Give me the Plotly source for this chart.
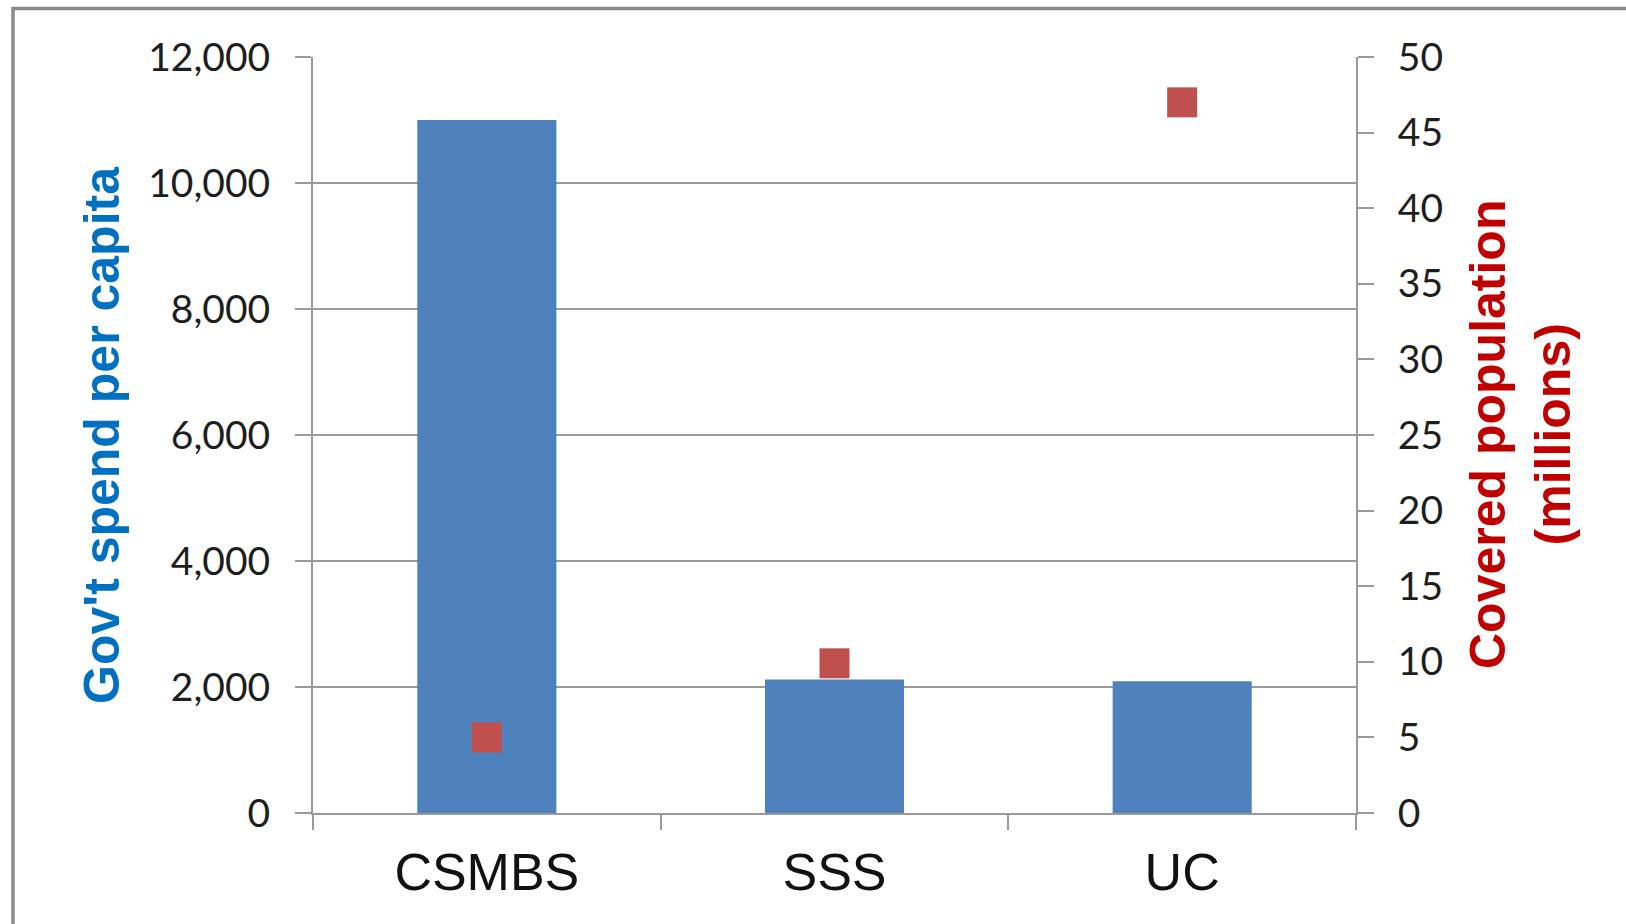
import plotly.graph_objects as go

# Health insurance schemes: government spend per capita vs covered population
schemes = ["CSMBS", "SSS", "UC"]
spend_per_capita = [11000, 2120, 2090]
covered_population_millions = [5.0, 9.9, 47.0]

spend_ticks = [0, 2000, 4000, 6000, 8000, 10000, 12000]
population_ticks = [0, 5, 10, 15, 20, 25, 30, 35, 40, 45, 50]

W, H = 1626, 924
L, R, T, B = 313, 270, 57, 111
plot_w = W - L - R
plot_h = H - T - B

AXIS_GREY = "#9a9a9a"
TICK_FONT = dict(family="Lato, Carlito, Calibri, sans-serif", size=39, color="#1e1e1e")


def px_to_paper_x(px):
    return (px - L) / plot_w


def px_to_paper_y(py):
    return (H - B - py) / plot_h


fig = go.Figure()

fig.add_trace(go.Bar(
    x=schemes,
    y=spend_per_capita,
    marker=dict(color="#4F81BD", line=dict(width=0)),
    yaxis="y",
    hoverinfo="skip",
))

fig.add_trace(go.Scatter(
    x=schemes,
    y=covered_population_millions,
    mode="markers",
    marker=dict(symbol="square", size=30, color="#C0504D", line=dict(width=0)),
    yaxis="y2",
    hoverinfo="skip",
))

fig.update_layout(
    width=W,
    height=H,
    margin=dict(l=L, r=R, t=T, b=B, pad=0),
    paper_bgcolor="white",
    plot_bgcolor="white",
    showlegend=False,
    bargap=0.6,
    xaxis=dict(
        type="category",
        categoryorder="array",
        categoryarray=schemes,
        showline=True,
        linecolor=AXIS_GREY,
        linewidth=2,
        ticks="outside",
        tickson="boundaries",
        ticklen=15,
        tickwidth=2,
        tickcolor=AXIS_GREY,
        showgrid=False,
        tickfont=dict(family="Liberation Sans, Arial, sans-serif", size=52, color="#111111"),
        ticklabelstandoff=13,
    ),
    yaxis=dict(
        range=[0, 12000],
        tickvals=spend_ticks,
        tickformat=",",
        showgrid=True,
        gridcolor=AXIS_GREY,
        gridwidth=2,
        zeroline=False,
        showline=True,
        linecolor=AXIS_GREY,
        linewidth=2,
        ticks="outside",
        ticklen=16,
        tickwidth=2,
        tickcolor=AXIS_GREY,
        tickfont=TICK_FONT,
        ticklabelstandoff=17,
    ),
    yaxis2=dict(
        range=[0, 50],
        tickvals=population_ticks,
        overlaying="y",
        side="right",
        showgrid=False,
        zeroline=False,
        showline=True,
        linecolor=AXIS_GREY,
        linewidth=2,
        ticks="outside",
        ticklen=16,
        tickwidth=2,
        tickcolor=AXIS_GREY,
        tickfont=TICK_FONT,
        ticklabelstandoff=16,
    ),
)

# Axis titles
fig.add_annotation(
    text="Gov't spend per capita",
    xref="paper", yref="paper",
    x=px_to_paper_x(102), y=0.5,
    xanchor="center", yanchor="middle",
    textangle=-90,
    showarrow=False,
    font=dict(family="Liberation Sans, Arial, sans-serif", size=50, color="#0070C0", weight="bold"),
)
fig.add_annotation(
    text="Covered population<br>(millions)",
    xref="paper", yref="paper",
    x=px_to_paper_x(1520), y=0.5,
    xanchor="center", yanchor="middle",
    textangle=-90,
    showarrow=False,
    font=dict(family="Liberation Sans, Arial, sans-serif", size=50, color="#C00000", weight="bold"),
)

# Grey frame around the chart area
fig.add_shape(
    type="rect",
    xref="paper", yref="paper",
    x0=px_to_paper_x(13), x1=px_to_paper_x(W + 20),
    y0=px_to_paper_y(H + 20), y1=px_to_paper_y(8.5),
    line=dict(color="#8a8a8a", width=3.5),
    fillcolor="rgba(0,0,0,0)",
    layer="above",
)

fig.write_html("out.html", config={"displayModeBar": False})
